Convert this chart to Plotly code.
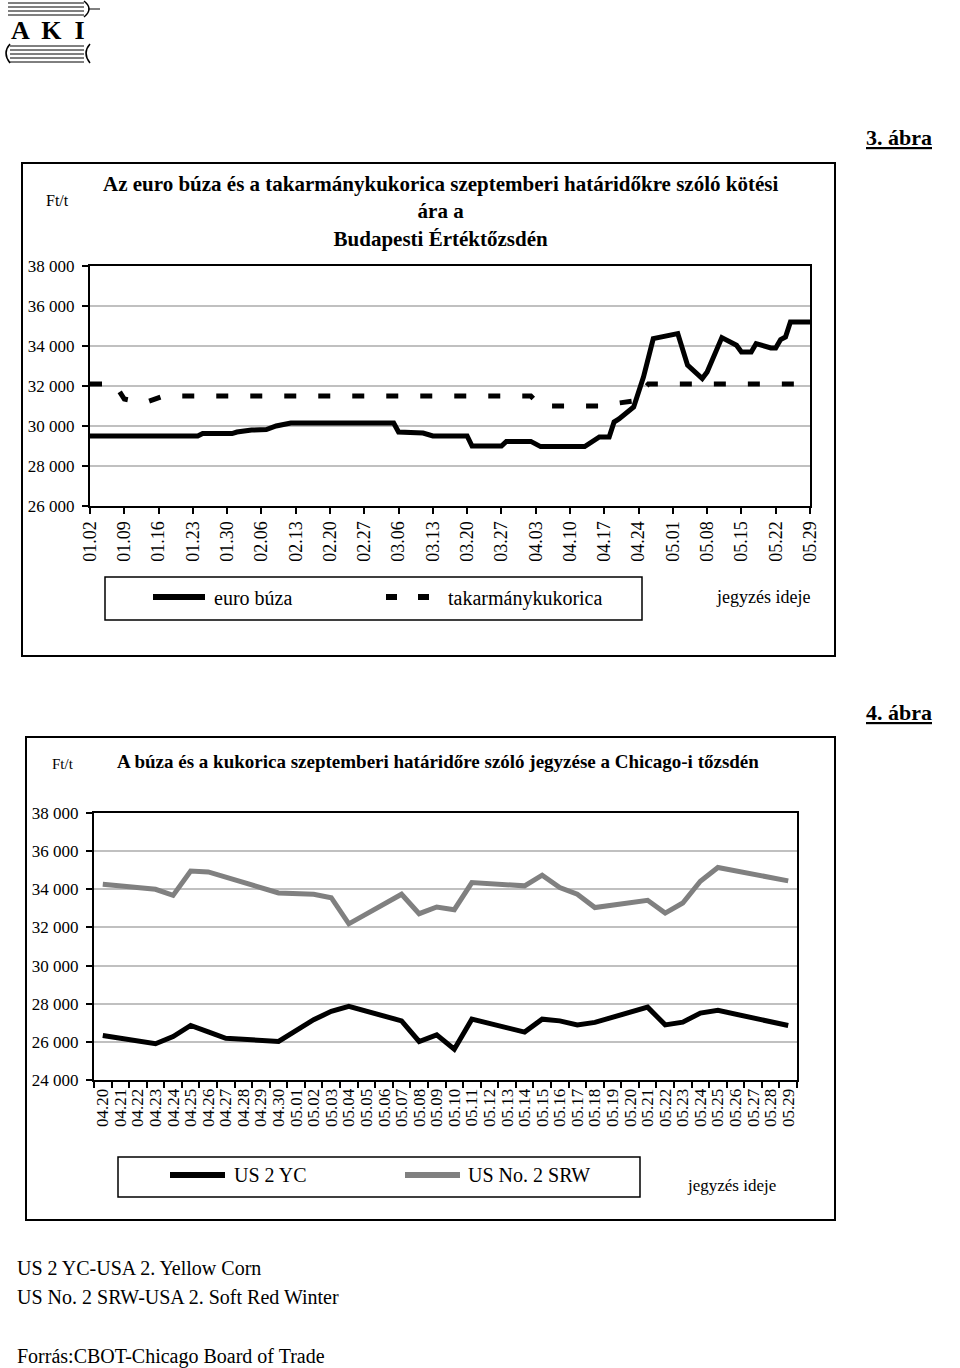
import plotly.graph_objects as go

W, H = 960, 1368
FONT = "Liberation Serif"

# ---------------- Chart 3: Budapest (BÉT) ----------------
week_ticks = ["01.02", "01.09", "01.16", "01.23", "01.30", "02.06", "02.13", "02.20",
              "02.27", "03.06", "03.13", "03.20", "03.27", "04.03", "04.10", "04.17",
              "04.24", "05.01", "05.08", "05.15", "05.22", "05.29"]

buza_dates = ["01.02", "01.24", "01.25", "01.31", "02.01", "02.04", "02.07", "02.09",
              "02.12", "03.05", "03.06", "03.11", "03.13", "03.20", "03.21", "03.27",
              "03.28", "04.02", "04.04", "04.13", "04.16", "04.18", "04.19", "04.20",
              "04.23", "04.25", "04.27", "05.02", "05.04", "05.07", "05.08", "05.11",
              "05.14", "05.15", "05.17", "05.18", "05.21", "05.22", "05.23", "05.24",
              "05.25", "05.29"]
buza_values = [29500, 29500, 29620, 29620, 29700, 29800, 29820, 30000,
               30150, 30150, 29700, 29650, 29500, 29500, 29000, 29000,
               29230, 29230, 28970, 28970, 29450, 29450, 30200, 30350,
               30950, 32450, 34370, 34620, 33040, 32370, 32700, 34420,
               34040, 33700, 33700, 34120, 33900, 33900, 34320, 34450,
               35200, 35200]

kukorica_dates = ["01.02", "01.07", "01.09", "01.13", "01.17", "04.02", "04.04",
                  "04.17", "04.20", "04.23", "04.26", "05.29"]
kukorica_values = [32100, 32100, 31350, 31150, 31500, 31500, 31000,
                   31000, 31150, 31250, 32100, 32100]

y3_ticks = [26000, 28000, 30000, 32000, 34000, 36000, 38000]
y3_labels = ["26 000", "28 000", "30 000", "32 000", "34 000", "36 000", "38 000"]

# ---------------- Chart 4: Chicago (CBOT) ----------------
cbot_categories = ["04.20", "04.21", "04.22", "04.23", "04.24", "04.25", "04.26", "04.27",
                   "04.28", "04.29", "04.30", "05.01", "05.02", "05.03", "05.04", "05.05",
                   "05.06", "05.07", "05.08", "05.09", "05.10", "05.11", "05.12", "05.13",
                   "05.14", "05.15", "05.16", "05.17", "05.18", "05.19", "05.20", "05.21",
                   "05.22", "05.23", "05.24", "05.25", "05.26", "05.27", "05.28", "05.29"]
cbot_dates = ["04.20", "04.23", "04.24", "04.25", "04.26", "04.27", "04.30", "05.02",
              "05.03", "05.04", "05.07", "05.08", "05.09", "05.10", "05.11", "05.14",
              "05.15", "05.16", "05.17", "05.18", "05.21", "05.22", "05.23", "05.24",
              "05.25", "05.29"]
srw_values = [34260, 34000, 33680, 34960, 34910, 34650, 33810, 33740,
              33560, 32190, 33740, 32720, 33070, 32930, 34350, 34180,
              34740, 34090, 33740, 33040, 33420, 32750, 33280, 34420,
              35140, 34440]
yc_values = [26330, 25900, 26280, 26860, 26520, 26190, 26020, 27160,
             27600, 27860, 27100, 26020, 26370, 25610, 27190, 26510,
             27190, 27100, 26890, 27020, 27820, 26890, 27030, 27510,
             27650, 26860]

y4_ticks = [24000, 26000, 28000, 30000, 32000, 34000, 36000, 38000]
y4_labels = ["24 000", "26 000", "28 000", "30 000", "32 000", "34 000", "36 000", "38 000"]


def d(md):
    return "2002-" + md.replace(".", "-")


def px(x):
    return x / W


def py(y):
    return 1 - y / H


fig = go.Figure()

fig.add_trace(go.Scatter(x=[d(s) for s in buza_dates], y=buza_values, mode="lines",
                         name="euro búza", line=dict(color="black", width=5),
                         xaxis="x", yaxis="y", showlegend=False))
fig.add_trace(go.Scatter(x=[d(s) for s in kukorica_dates], y=kukorica_values, mode="lines",
                         name="takarmánykukorica",
                         line=dict(color="black", width=5, dash="12px,22px"),
                         xaxis="x", yaxis="y", showlegend=False))
fig.add_trace(go.Scatter(x=cbot_dates, y=yc_values, mode="lines", name="US 2 YC",
                         line=dict(color="black", width=5),
                         xaxis="x2", yaxis="y2", showlegend=False))
fig.add_trace(go.Scatter(x=cbot_dates, y=srw_values, mode="lines", name="US No. 2 SRW",
                         line=dict(color="#808080", width=5),
                         xaxis="x2", yaxis="y2", showlegend=False))

axis_common = dict(showline=True, linecolor="black", linewidth=2, mirror=True,
                   ticks="outside", tickcolor="black", tickwidth=1.5, ticklen=6,
                   tickfont=dict(family=FONT, size=17, color="black"), zeroline=False,
                   automargin=False)

fig.update_layout(
    width=W, height=H, autosize=False,
    margin=dict(l=0, r=0, t=0, b=0, pad=0),
    paper_bgcolor="white", plot_bgcolor="white",
    font=dict(family=FONT, color="black"),
    xaxis=dict(axis_common, type="date", domain=[px(90), px(810)],
               range=[d("01.02"), d("05.29")],
               tickvals=[d(s) for s in week_ticks], ticktext=week_ticks,
               tickangle=-90, showgrid=False, anchor="y",
               tickfont=dict(family=FONT, size=18, color="black")),
    yaxis=dict(axis_common, domain=[py(506), py(266)], range=[26000, 38000],
               tickvals=y3_ticks, ticktext=y3_labels, showgrid=True,
               gridcolor="#c0c0c0", gridwidth=1.5, anchor="x", ticklabelstandoff=4),
    xaxis2=dict(axis_common, type="category", domain=[px(94), px(797)],
                categoryorder="array", categoryarray=cbot_categories,
                range=[-0.5, len(cbot_categories) - 0.5], tickson="boundaries",
                tickvals=cbot_categories, ticktext=cbot_categories,
                tickangle=-90, showgrid=False, anchor="y2",
                tickfont=dict(family=FONT, size=17, color="black")),
    yaxis2=dict(axis_common, domain=[py(1080), py(813)], range=[24000, 38000],
                tickvals=y4_ticks, ticktext=y4_labels, showgrid=True,
                gridcolor="#c0c0c0", gridwidth=1.5, anchor="x2", ticklabelstandoff=4),
)

shapes = []


def rect(x0, y0, x1, y1, w=2):
    shapes.append(dict(type="rect", xref="paper", yref="paper",
                       x0=px(x0), x1=px(x1), y0=py(y1), y1=py(y0),
                       line=dict(color="black", width=w), fillcolor="rgba(0,0,0,0)"))


def hline(x0, x1, y, w, color="black"):
    shapes.append(dict(type="line", xref="paper", yref="paper",
                       x0=px(x0), x1=px(x1), y0=py(y), y1=py(y),
                       line=dict(color=color, width=w)))


# chart 3 frames
rect(22, 163, 835, 656)
rect(105, 577, 642, 620, 1.5)
hline(153, 205, 597, 6)
hline(386, 397, 597, 6)
hline(418, 429, 597, 6)
# chart 4 frames
rect(26, 737, 835, 1220)
rect(118, 1157, 640, 1197, 1.5)
hline(170, 225, 1175, 6)
hline(405, 460, 1175, 6, "#808080")

# AKI logo (decorative)
for yy in [3, 7, 11, 15]:
    hline(8, 84, yy, 1)
shapes.append(dict(type="path", xref="paper", yref="paper",
                   path=f"M {px(84)} {py(1)} Q {px(94)} {py(9)} {px(84)} {py(17)}",
                   line=dict(color="black", width=1.5)))
hline(88, 100, 9, 1)
for yy in [46, 50, 54, 58, 62]:
    hline(10, 84, yy, 1)
shapes.append(dict(type="path", xref="paper", yref="paper",
                   path=f"M {px(10)} {py(44)} Q {px(2)} {py(53)} {px(10)} {py(63)}",
                   line=dict(color="black", width=1.5)))
shapes.append(dict(type="path", xref="paper", yref="paper",
                   path=f"M {px(90)} {py(44)} Q {px(82)} {py(53)} {px(90)} {py(63)}",
                   line=dict(color="black", width=1.5)))
fig.update_layout(shapes=shapes)

ann = []


def text(x, y, s, size=16, xanchor="left", bold=False):
    if bold:
        s = "<b>" + s + "</b>"
    ann.append(dict(x=px(x), y=py(y), xref="paper", yref="paper", text=s,
                    showarrow=False, xanchor=xanchor, yanchor="middle",
                    font=dict(family=FONT, size=size, color="black")))


text(48, 31, "A  K  I", 26, "center", bold=True)
text(899, 138, "<u>3. ábra</u>", 22, "center", bold=True)
text(57, 201, "Ft/t", 16, "center")
text(440, 212, "Az euro búza és a takarmánykukorica szeptemberi határidőkre szóló kötési<br>"
               "ára a<br>Budapesti Értéktőzsdén", 21, "center", bold=True)
text(212, 598, "euro búza", 20)
text(446, 598, "takarmánykukorica", 20)
text(714, 597, "jegyzés ideje", 18)

text(899, 712, "<u>4. ábra</u>", 22, "center", bold=True)
text(63, 764, "Ft/t", 15, "center")
text(438, 762, "A búza és a kukorica szeptemberi határidőre szóló jegyzése a Chicago-i tőzsdén",
     19, "center", bold=True)
text(232, 1175, "US 2 YC", 20)
text(466, 1175, "US No. 2 SRW", 20)
text(685, 1185, "jegyzés ideje", 17)

text(15, 1268, "US 2 YC-USA 2. Yellow Corn", 20)
text(15, 1297, "US No. 2 SRW-USA 2. Soft Red Winter", 20)
text(15, 1356, "Forrás:CBOT-Chicago Board of Trade", 20)

fig.update_layout(annotations=ann)

fig.write_html("out.html",
               config={"displayModeBar": False},
               post_script="document.body.style.margin='0';"
                           "document.body.style.overflow='hidden';")
